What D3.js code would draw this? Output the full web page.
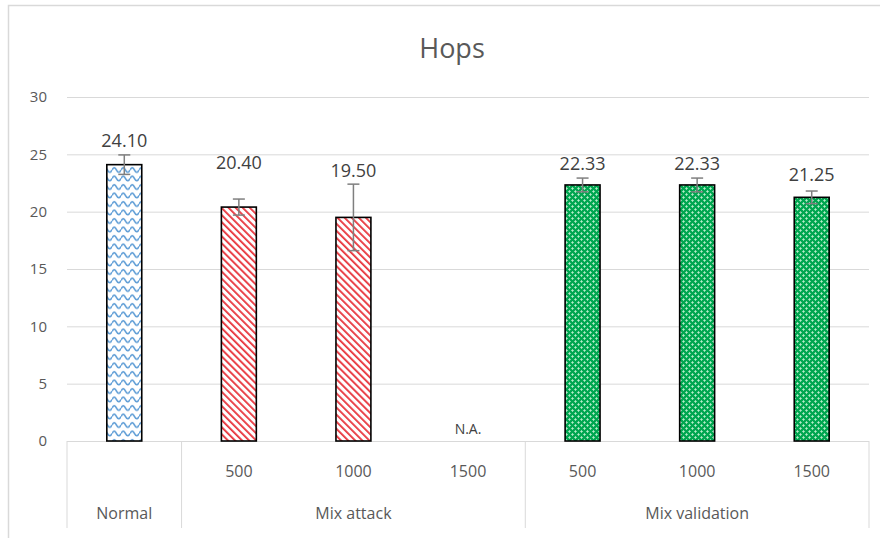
<!DOCTYPE html>
<html>
<head>
<meta charset="utf-8">
<script src="https://cdn.jsdelivr.net/npm/d3@7"></script>
<style>
  body { margin: 0; background: #fff; }
  text { font-family: "Open Sans", Arial, sans-serif; }
</style>
</head>
<body>
<svg id="chart"></svg>
<script>
const groups = ["Normal", "Mix attack", "Mix validation"];
const groupOf = [0, 1, 1, 1, 2, 2, 2];
const subLabels = ["", "500", "1000", "1500", "500", "1000", "1500"];
const values = [24.10, 20.40, 19.50, null, 22.33, 22.33, 21.25];
const errors = [0.85, 0.7, 2.9, null, 0.6, 0.6, 0.55];
const valueLabels = ["24.10", "20.40", "19.50", "N.A.", "22.33", "22.33", "21.25"];
const labelAt = [26.2, 24.3, 23.6, 1.0, 24.2, 24.2, 23.2];
const yTicks = [0, 5, 10, 15, 20, 25, 30];
const fills = ["url(#wave)", "url(#diag)", "url(#diag)", "url(#diag)", "url(#dots)", "url(#dots)", "url(#dots)"];

const W = 880, H = 538;
const margin = {top: 97, right: 11, bottom: 97, left: 67};
const width = W - margin.left - margin.right,
    height = H - margin.top - margin.bottom;

const svg = d3.select("#chart").attr("width", W).attr("height", H);

// patterns
const defs = svg.append("defs");
const wave = defs.append("pattern").attr("id", "wave")
    .attr("patternUnits", "userSpaceOnUse").attr("width", 9).attr("height", 8.5);
wave.append("rect").attr("width", 9).attr("height", 8.5).attr("fill", "#fff");
wave.append("path").attr("d", "M0,5 Q2.25,0.5 4.5,5 T9,5")
    .attr("fill", "none").attr("stroke", "#5b9bd5").attr("stroke-width", 1.6);

const diag = defs.append("pattern").attr("id", "diag")
    .attr("patternUnits", "userSpaceOnUse").attr("width", 5).attr("height", 10)
    .attr("patternTransform", "rotate(-45)");
diag.append("rect").attr("width", 5).attr("height", 10).attr("fill", "#fff");
diag.append("rect").attr("width", 1.8).attr("height", 10).attr("fill", "#e8333a");

const dots = defs.append("pattern").attr("id", "dots")
    .attr("patternUnits", "userSpaceOnUse").attr("width", 6).attr("height", 6);
dots.append("rect").attr("width", 6).attr("height", 6).attr("fill", "#00a650");
dots.append("path").attr("d", "M1.5,0.3 v2.4 M0.3,1.5 h2.4 M4.5,3.3 v2.4 M3.3,4.5 h2.4")
    .attr("stroke", "#b5ecc9").attr("stroke-width", 1.1);

// outer chart border
svg.append("path").attr("d", `M8.5,${H} V5.5 H${W}`)
    .attr("fill", "none").attr("stroke", "#d9d9d9").attr("stroke-width", 1.5);

const g = svg.append("g").attr("transform", `translate(${margin.left},${margin.top})`);

const x = d3.scaleBand().domain(d3.range(values.length)).range([0, width]).padding(0);
const y = d3.scaleLinear().domain([0, 30]).range([height, 0]);
const barW = x.bandwidth() * 0.305;

// gridlines
g.append("g")
    .call(d3.axisLeft(y).tickValues(yTicks).tickSize(-width).tickFormat(""))
    .call(a => a.select(".domain").remove())
    .selectAll("line").attr("stroke", "#d9d9d9").attr("stroke-width", 1);

// y tick labels
g.append("g")
    .call(d3.axisLeft(y).tickValues(yTicks).tickSize(0).tickPadding(20).tickFormat(d3.format("d")))
    .call(a => a.select(".domain").remove())
    .selectAll("text").attr("fill", "#595959").style("font-size", "15px");

// category axis separators
const sepX = [0, x(1), x(4), width];
g.selectAll(".sep").data(sepX).enter().append("line")
    .attr("x1", d => d).attr("x2", d => d)
    .attr("y1", height).attr("y2", height + 87)
    .attr("stroke", "#d9d9d9").attr("stroke-width", 1);

// sub labels
g.selectAll(".sub").data(subLabels).enter().append("text")
    .attr("x", (d, i) => x(i) + x.bandwidth() / 2)
    .attr("y", height + 30)
    .attr("dy", "0.35em")
    .attr("text-anchor", "middle")
    .attr("fill", "#595959")
    .style("font-size", "16px")
    .text(d => d);

// group labels
g.selectAll(".grp").data(groups).enter().append("text")
    .attr("x", (d, gi) => {
        const idx = groupOf.map((v, i) => v === gi ? i : -1).filter(i => i >= 0);
        return (x(idx[0]) + x(idx[idx.length - 1]) + x.bandwidth()) / 2;
    })
    .attr("y", height + 72)
    .attr("dy", "0.35em")
    .attr("text-anchor", "middle")
    .attr("fill", "#595959")
    .style("font-size", "16px")
    .text(d => d);

// bars
const barData = values.map((v, i) => ({i, v, e: errors[i]})).filter(d => d.v != null);
g.selectAll(".bar").data(barData).enter().append("rect")
    .attr("x", d => x(d.i) + (x.bandwidth() - barW) / 2)
    .attr("y", d => y(d.v))
    .attr("width", barW)
    .attr("height", d => height - y(d.v))
    .attr("fill", d => fills[d.i])
    .attr("stroke", "#000")
    .attr("stroke-width", 1.6);

// error bars
const eb = g.selectAll(".err").data(barData).enter().append("g")
    .attr("stroke", "#7f7f7f").attr("stroke-width", 1.5);
eb.append("line")
    .attr("x1", d => x(d.i) + x.bandwidth() / 2).attr("x2", d => x(d.i) + x.bandwidth() / 2)
    .attr("y1", d => y(d.v + d.e)).attr("y2", d => y(d.v - d.e));
eb.append("line")
    .attr("x1", d => x(d.i) + x.bandwidth() / 2 - 6).attr("x2", d => x(d.i) + x.bandwidth() / 2 + 6)
    .attr("y1", d => y(d.v + d.e)).attr("y2", d => y(d.v + d.e));
eb.append("line")
    .attr("x1", d => x(d.i) + x.bandwidth() / 2 - 6).attr("x2", d => x(d.i) + x.bandwidth() / 2 + 6)
    .attr("y1", d => y(d.v - d.e)).attr("y2", d => y(d.v - d.e));

// value labels
g.selectAll(".lbl").data(valueLabels).enter().append("text")
    .attr("x", (d, i) => x(i) + x.bandwidth() / 2)
    .attr("y", (d, i) => y(labelAt[i]))
    .attr("dy", "0.35em")
    .attr("text-anchor", "middle")
    .attr("fill", "#404040")
    .style("font-size", d => d === "N.A." ? "14px" : "18px")
    .text(d => d);

// title
svg.append("text")
    .attr("x", 452)
    .attr("y", 49)
    .attr("dy", "0.35em")
    .attr("text-anchor", "middle")
    .attr("fill", "#595959")
    .style("font-size", "27px")
    .text("Hops");
</script>
</body>
</html>
